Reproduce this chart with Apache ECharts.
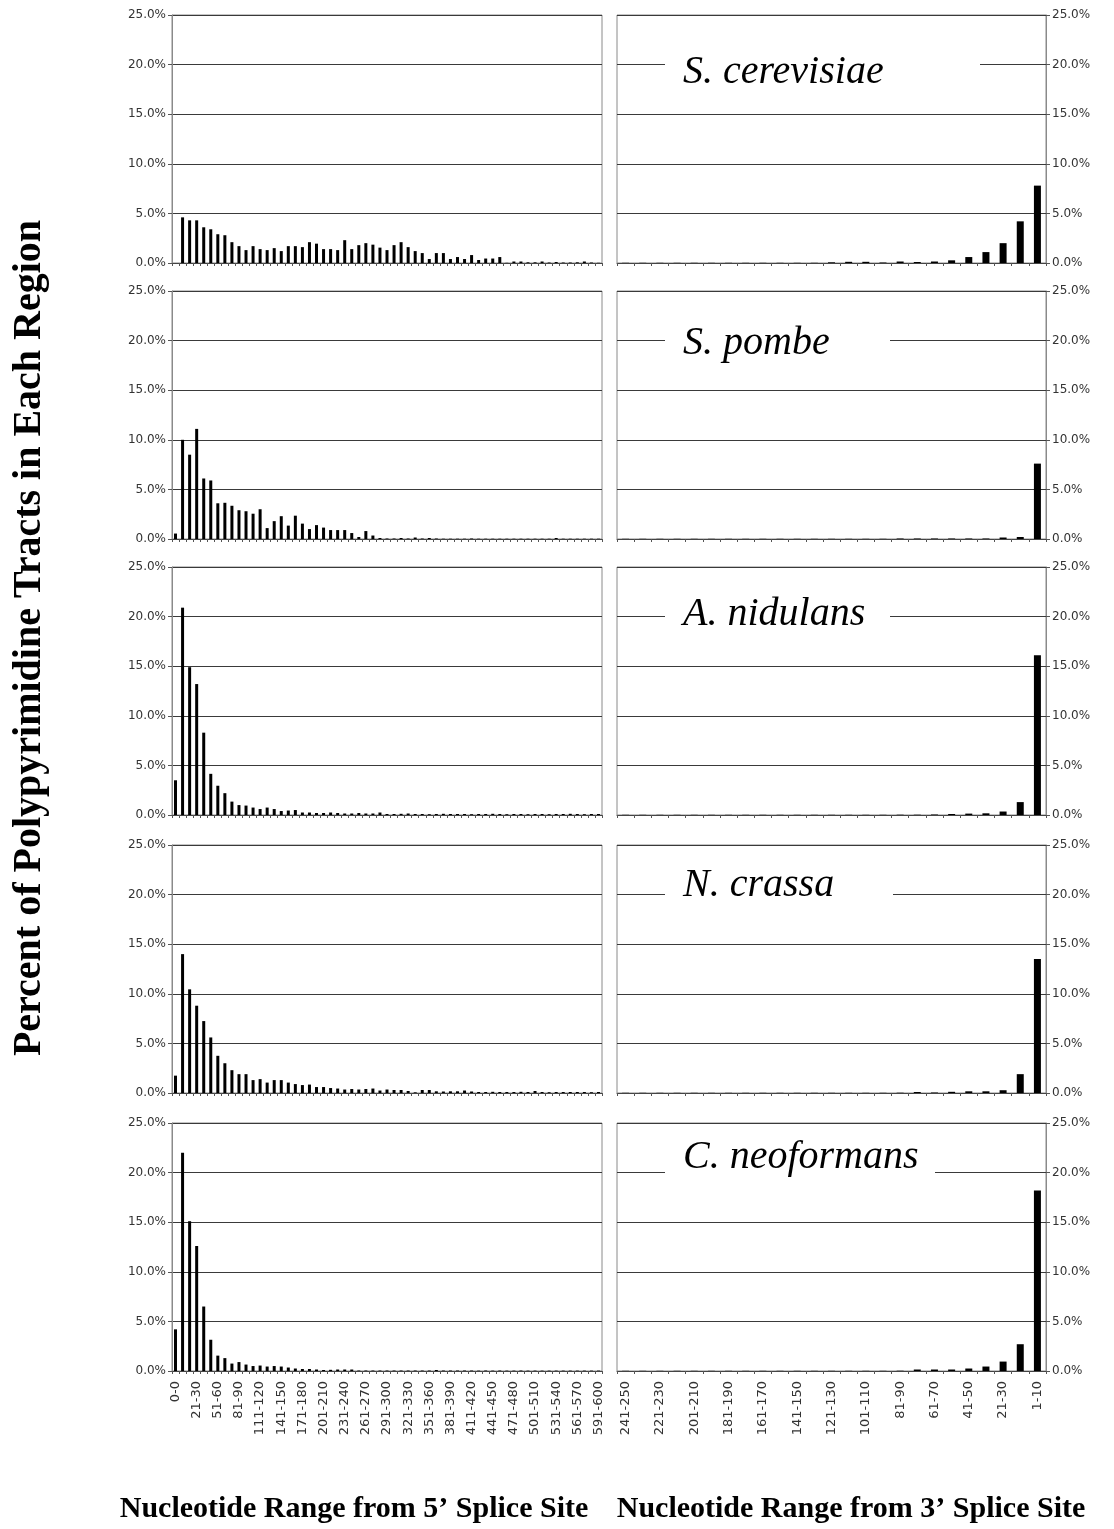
<!DOCTYPE html>
<html>
<head>
<meta charset="utf-8">
<script src="https://cdn.jsdelivr.net/npm/echarts@6/dist/echarts.min.js"></script>
<style>
html,body{margin:0;padding:0;background:#fff;}
#chart{width:1114px;height:1529px;}
</style>
</head>
<body>
<div id="chart"></div>
<script>
// ---- categories (tick labels) ----
const leftCats = ['0-0','1-10','11-20','21-30','31-40','41-50','51-60','61-70','71-80','81-90','91-100',
  '101-110','111-120','121-130','131-140','141-150','151-160','161-170','171-180','181-190','191-200',
  '201-210','211-220','221-230','231-240','241-250','251-260','261-270','271-280','281-290','291-300',
  '301-310','311-320','321-330','331-340','341-350','351-360','361-370','371-380','381-390','391-400',
  '401-410','411-420','421-430','431-440','441-450','451-460','461-470','471-480','481-490','491-500',
  '501-510','511-520','521-530','531-540','541-550','551-560','561-570','571-580','581-590','591-600'];
const rightCats = ['241-250','231-240','221-230','211-220','201-210','191-200','181-190','171-180','161-170',
  '151-160','141-150','131-140','121-130','111-120','101-110','91-100','81-90','71-80','61-70','51-60',
  '41-50','31-40','21-30','11-20','1-10'];
const yTicks = [0, 5, 10, 15, 20, 25];
const species = ['S. cerevisiae', 'S. pombe', 'A. nidulans', 'N. crassa', 'C. neoformans'];
const leftTitle = 'Nucleotide Range from 5\u2019 Splice Site';
const rightTitle = 'Nucleotide Range from 3\u2019 Splice Site';
const yTitle = 'Percent of Polypyrimidine Tracts in Each Region';

// ---- values (percent) ----
const sc5 = [0, 4.6,4.3,4.3,3.6,3.4,2.9,2.8,2.1,1.7,1.3, 1.7,1.4,1.3,1.5,1.2,1.7,1.7,1.6,2.1,1.95,
  1.4,1.4,1.3,2.3,1.4,1.8,2.0,1.85,1.55,1.3, 1.8,2.1,1.6,1.2,1.0,0.4,1.0,1.0,0.4,0.6,
  0.4,0.8,0.3,0.45,0.45,0.6,0.02,0.15,0.15,0.07, 0.07,0.15,0.05,0.1,0.05,0.05,0.07,0.15,0.05,0.02];
const sc3 = [0.02,0.02,0.02,0.02,0.02,0.02,0.02,0.02,0.02,0.02,0.02,0.02,0.07,0.12,0.12,0.05,0.15,0.1,0.15,0.27,0.6,1.1,2.0,4.2,7.8];

const sp5 = [0.55, 10.0,8.5,11.1,6.1,5.9,3.6,3.65,3.35,2.9,2.8, 2.55,3.0,1.1,1.8,2.3,1.35,2.35,1.55,1.0,1.4,
  1.15,0.9,0.9,0.9,0.6,0.2,0.8,0.35,0.1,0.05, 0.05,0.1,0.05,0.15,0.05,0.1,0.05,0.03,0.03,0.03,
  0.03,0.05,0.03,0.03,0.03,0.03,0.03,0.03,0.03,0.03, 0.03,0.03,0.03,0.1,0.03,0.03,0.03,0.03,0.03,0.03];
const sp3 = [0.02,0.02,0.02,0.02,0.02,0.02,0.02,0.02,0.02,0.02,0.02,0.02,0.02,0.02,0.02,0.02,0.05,0.05,0.05,0.05,0.05,0.05,0.15,0.2,7.6];

const an5 = [3.5, 20.9,14.9,13.2,8.3,4.15,2.95,2.2,1.35,1.0,0.95, 0.75,0.6,0.75,0.6,0.4,0.45,0.5,0.25,0.25,0.2,
  0.2,0.25,0.2,0.15,0.15,0.2,0.15,0.15,0.25,0.1, 0.1,0.12,0.15,0.1,0.1,0.08,0.1,0.12,0.1,0.1,
  0.1,0.08,0.1,0.1,0.12,0.1,0.08,0.1,0.1,0.08, 0.1,0.1,0.08,0.1,0.1,0.12,0.1,0.08,0.1,0.1];
const an3 = [0.02,0.02,0.02,0.02,0.02,0.02,0.02,0.02,0.02,0.02,0.02,0.02,0.02,0.02,0.02,0.02,0.03,0.03,0.05,0.1,0.14,0.17,0.35,1.3,16.1];

const nc5 = [1.75, 14.0,10.45,8.8,7.25,5.6,3.75,3.0,2.3,1.9,1.9, 1.3,1.4,1.05,1.3,1.3,1.05,0.9,0.8,0.85,0.6,
  0.6,0.5,0.45,0.35,0.4,0.35,0.4,0.45,0.25,0.35, 0.3,0.3,0.2,0.07,0.3,0.3,0.17,0.15,0.17,0.17,
  0.25,0.15,0.1,0.1,0.12,0.1,0.1,0.1,0.12,0.1, 0.2,0.1,0.08,0.1,0.1,0.1,0.1,0.1,0.08,0.1];
const nc3 = [0.02,0.02,0.02,0.02,0.02,0.02,0.02,0.02,0.02,0.02,0.02,0.02,0.02,0.02,0.02,0.02,0.03,0.1,0.05,0.12,0.17,0.17,0.28,1.9,13.5];

const cn5 = [4.2, 22.0,15.1,12.6,6.5,3.15,1.55,1.3,0.75,0.9,0.65, 0.5,0.55,0.45,0.5,0.45,0.35,0.25,0.2,0.2,0.15,
  0.1,0.12,0.15,0.15,0.15,0.05,0.05,0.05,0.05,0.05, 0.05,0.05,0.05,0.05,0.05,0.05,0.1,0.05,0.05,0.05,
  0.05,0.05,0.04,0.05,0.04,0.05,0.04,0.04,0.05,0.04, 0.04,0.04,0.04,0.04,0.04,0.04,0.04,0.04,0.04,0.04];
const cn3 = [0.02,0.02,0.02,0.02,0.02,0.02,0.02,0.02,0.02,0.02,0.02,0.02,0.02,0.02,0.02,0.02,0.03,0.15,0.15,0.15,0.25,0.45,0.95,2.7,18.2];

const leftData = [sc5, sp5, an5, nc5, cn5];
const rightData = [sc3, sp3, an3, nc3, cn3];

// ---- layout ----
const rowTops = [15, 291, 567, 845, 1123];
const rowH = 248;
const L = {left: 172, width: 430};
const R = {left: 617, width: 429};
const labelBoxes = [
  {cy: 72, w: 315}, {cy: 343, w: 225}, {cy: 614, w: 225}, {cy: 885, w: 228}, {cy: 1157, w: 270}
];

const yFont = {fontFamily: 'DejaVu Sans, Verdana, sans-serif', fontSize: 12, color: '#333'};
const xFont = {fontFamily: 'DejaVu Sans, Verdana, sans-serif', fontSize: 13, color: '#333'};

const grids = [], xAxes = [], yAxes = [], series = [], graphics = [];
for (let r = 0; r < 5; r++) {
  const last = r === 4;
  [[L, leftCats, leftData[r], 'left', 2, 3], [R, rightCats, rightData[r], 'right', 1, 7]].forEach(([g, cats, vals, side, lblInt, bw]) => {
    const idx = grids.length;
    grids.push({left: g.left, width: g.width, top: rowTops[r], height: rowH,
      show: true, borderColor: '#8a8a8a', borderWidth: 1, backgroundColor: '#fff'});
    xAxes.push({type: 'category', gridIndex: idx, data: cats, boundaryGap: true,
      axisLine: {show: true, lineStyle: {color: '#444', width: 1}},
      axisTick: {show: true, interval: 0, length: 3, lineStyle: {color: '#555'}},
      axisLabel: Object.assign({show: last, interval: lblInt, rotate: 90, margin: 10}, xFont),
      splitLine: {show: false}});
    yAxes.push({type: 'value', gridIndex: idx, position: side, min: yTicks[0], max: yTicks[yTicks.length - 1],
      interval: yTicks[1] - yTicks[0],
      axisLine: {show: true, lineStyle: {color: '#8a8a8a'}},
      axisTick: {show: true, length: 4, lineStyle: {color: '#555'}},
      axisLabel: Object.assign({margin: 6, formatter: v => v.toFixed(1) + '%'}, yFont),
      splitLine: {show: true, lineStyle: {color: '#3a3a3a', width: 1}}});
    series.push({type: 'bar', xAxisIndex: idx, yAxisIndex: idx, data: vals, barWidth: bw,
      itemStyle: {color: '#000'}, silent: true, animation: false});
  });
  // species label with white background
  const b = labelBoxes[r];
  graphics.push({type: 'rect', left: 665, top: b.cy - 22, shape: {width: b.w, height: 44}, style: {fill: '#fff'}, z: 100});
  graphics.push({type: 'text', x: 683, y: b.cy, z: 101,
    style: {text: species[r], fill: '#000', font: 'italic 40px "Liberation Serif", "Times New Roman", serif',
      textAlign: 'left', textVerticalAlign: 'middle'}});
}
graphics.push({type: 'text', x: 354, y: 1509, z: 101,
  style: {text: leftTitle, fill: '#000', font: 'bold 30px "Liberation Serif", "Times New Roman", serif', textAlign: 'center', textVerticalAlign: 'middle'}});
graphics.push({type: 'text', x: 851, y: 1509, z: 101,
  style: {text: rightTitle, fill: '#000', font: 'bold 30px "Liberation Serif", "Times New Roman", serif', textAlign: 'center', textVerticalAlign: 'middle'}});
graphics.push({type: 'text', x: 30, y: 638, rotation: Math.PI / 2, z: 101,
  style: {text: yTitle, fill: '#000', font: 'bold 40px "Liberation Serif", "Times New Roman", serif', textAlign: 'center', textVerticalAlign: 'middle'}});

const chart = echarts.init(document.getElementById('chart'), null, {renderer: 'canvas'});
chart.setOption({
  animation: false,
  backgroundColor: '#fff',
  grid: grids, xAxis: xAxes, yAxis: yAxes, series: series, graphic: graphics
});
</script>
</body>
</html>
